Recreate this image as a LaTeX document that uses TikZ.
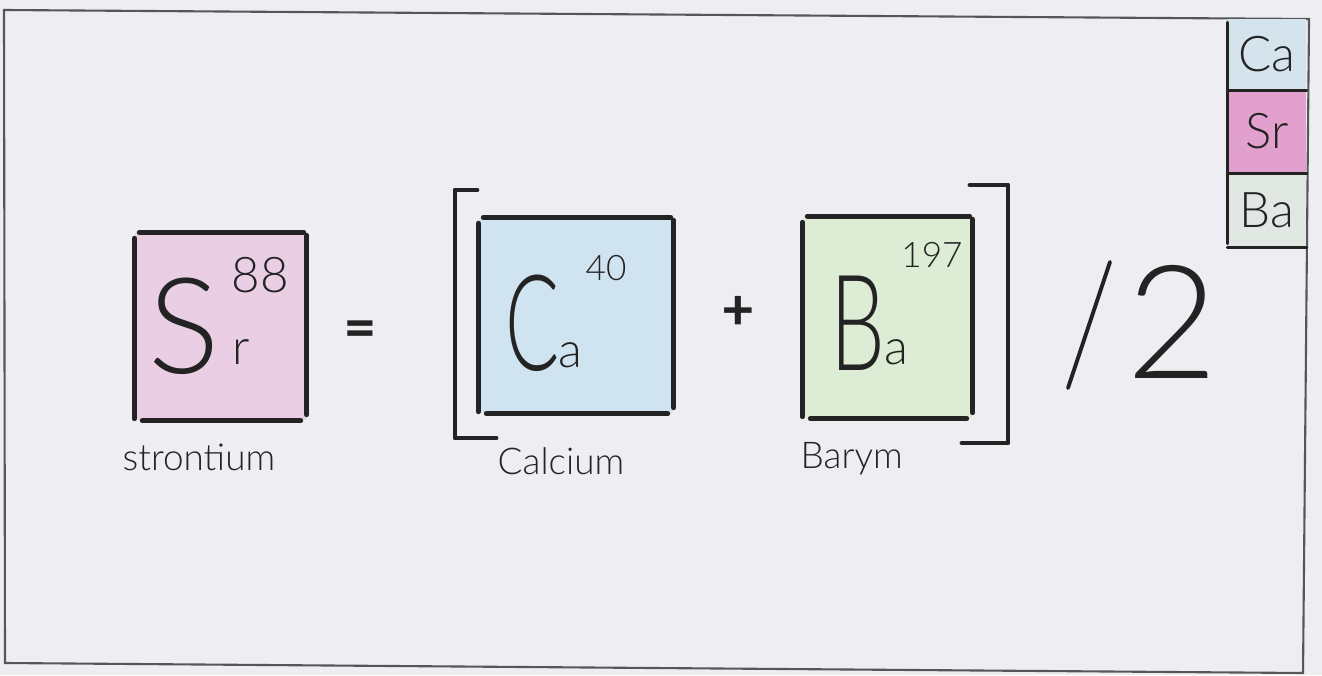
\documentclass[tikz,border=0pt]{standalone}
\usepackage{fontspec}
\setmainfont{Lato Light}
\newfontfamily\opfont{Carlito}
\definecolor{paper}{RGB}{237,237,242}
\definecolor{ink}{RGB}{35,35,35}
\definecolor{framegray}{RGB}{85,85,90}
\definecolor{srfill}{RGB}{234,206,228}
\definecolor{cafill}{RGB}{207,228,240}
\definecolor{bafill}{RGB}{221,236,212}
\definecolor{legca}{RGB}{213,227,236}
\definecolor{legsr}{RGB}{226,160,206}
\definecolor{legba}{RGB}{225,231,226}

\begin{document}
\begin{tikzpicture}[x=0.1mm, y=-0.1mm,
	every node/.style={inner sep=0pt, text=ink},
	pen/.style={draw=ink, line width=1.4pt, line cap=round, line join=round},
	thinpen/.style={draw=ink, line width=0.9pt, line cap=round},
	tile/.style={rectangle, inner sep=0pt},
	big/.style={font=\fontsize{38}{38}\selectfont, anchor=base west},
	small/.style={font=\fontsize{14}{14}\selectfont, anchor=base west},
	mass/.style={font=\fontsize{10}{10}\selectfont},
	elname/.style={font=\fontsize{10.5}{10.5}\selectfont, anchor=base west},
	cell/.style={tile, font=\fontsize{14}{14}\selectfont, minimum width=7.8mm},
	op/.style={font=\opfont\fontsize{17}{17}\bfseries}]
	\fill[paper] (0,0) rectangle (1322,675);
	\useasboundingbox (0,0) rectangle (1322,675);
	\draw[framegray, line width=0.6pt] (4,10) -- (1309,19) -- (1303,673) -- (5,663) -- cycle;
	% legend in the corner
	\node[cell, fill=legca, minimum height=7.1mm] (lca) at (1267,54.5) {Ca};
	\node[cell, fill=legsr, minimum height=8.3mm] (lsr) at (1267,131.5) {Sr};
	\node[cell, fill=legba, minimum height=7.4mm] (lba) at (1267,210) {Ba};
	\draw[thinpen] ([yshift=-0.4mm]lca.north west) -- ([yshift=0.4mm]lba.south west);
	\foreach \c in {lca,lsr,lba}
		\draw[thinpen] (\c.south west) -- (\c.south east);
	% element tiles
	\node[tile, fill=srfill, minimum width=17.1mm, minimum height=18.7mm] (sr) at (220.5,326.5) {};
	\node[tile, fill=cafill, minimum width=19.4mm, minimum height=19.5mm] (ca) at (576,315.5) {};
	\node[tile, fill=bafill, minimum width=16.9mm, minimum height=20.1mm] (ba) at (887.5,317.5) {};
	\foreach \t in {sr,ca,ba} {
		\draw[pen, shorten <=0.5mm, shorten >=0.3mm] (\t.north west) -- (\t.north east);
		\draw[pen, shorten <=0.6mm, shorten >=0.2mm] (\t.north west) -- (\t.south west);
		\draw[pen, shorten <=0.3mm, shorten >=0.6mm] (\t.north east) -- (\t.south east);
		\draw[pen, shorten <=0.8mm, shorten >=0.6mm] (\t.south west) -- (\t.south east);
	}
	\node[big] (srsym) at (148,373) {S};
	\node[small] (srsub) at (232,364) {r};
	\node[mass, font=\fontsize{14}{14}\selectfont] (srmass) at (260,275) {88};
	\node[big, xscale=0.6, transform shape] (casym) at (505,370) {C};
	\node[small] (casub) at (558,367) {a};
	\node[mass] (camass) at (606,268) {40};
	\node[big, xscale=0.65, transform shape] (basym) at (830,370) {B};
	\node[small] (basub) at (884,364) {a};
	\node[mass] (bamass) at (932,255) {197};
	\node[elname] (srname) at (122,470) {strontium};
	\node[elname] (caname) at (497,474) {Calcium};
	\node[elname] (baname) at (800,468) {Barym};
	% the sum and the brackets
	\node[op] (eq) at (360,334) {=};
	\node[op] (plus) at (738,313) {+};
	\draw[pen] (477,190) -- (455,190) -- (455,438) -- (496,438);
	\draw[pen] (970,185) -- (1008,185) -- (1008,443) -- (962,443);
	\draw[thinpen, line width=1.1pt] (1068,388) -- (1110,262);
	\node[font=\fontsize{45}{45}\selectfont] (two) at (1172,322) {2};
\end{tikzpicture}
\end{document}
